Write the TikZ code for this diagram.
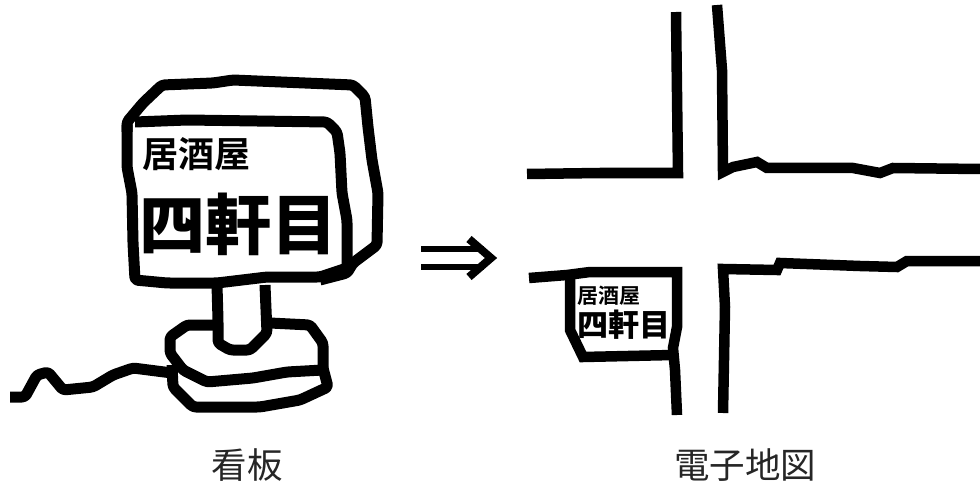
\documentclass[tikz,border=0pt]{standalone}
\usepackage{fontspec}
\setmainfont{Noto Sans CJK JP}
\newfontfamily\jpbold{Noto Sans CJK JP Black}
\newfontfamily\jpmed{Noto Sans CJK JP Bold}
\tikzset{
  ink/.style={line width=11pt,line join=round,line cap=butt,black,rounded corners=3pt},
  road/.style={line width=10.5pt,line join=miter,line cap=butt,black},
  caption/.style={font=\fontsize{35.5}{38}\selectfont,inner sep=0pt,text=black!85},
}
\begin{document}
\begin{tikzpicture}[x=1pt,y=-1pt]
\useasboundingbox (0,0) rectangle (980,484);
\fill[white] (0,0) rectangle (980,484);
% sign
\draw[ink] (127,132) -- (127,122) -- (143,103) -- (162,85) -- (213,83) -- (233,80) -- (353,85) -- (365,97) -- (368,127) -- (372,160) -- (378,193) -- (377,245) -- (353,263) -- (347,273) -- (320,280);
\draw[ink] (135,122) -- (187,120) -- (327,122) -- (337,132) -- (340,153) -- (342,193) -- (347,220) -- (347,268);
\draw[ink] (127,125) -- (127,167) -- (132,193) -- (133,243) -- (135,280) -- (167,283) -- (217,283) -- (267,277) -- (320,277) -- (347,268);
% pole
\draw[ink] (217,285) -- (218,320) -- (218,343) -- (230,350) -- (250,350) -- (267,333) -- (265,285);
% base
\draw[ink] (217,325) -- (187,325) -- (170,337) -- (170,353) -- (183,370) -- (207,382) -- (253,378) -- (287,372) -- (323,370) -- (323,343) -- (310,325) -- (270,323);
\draw[ink] (172,365) -- (173,387) -- (193,407) -- (260,407) -- (300,400) -- (328,387) -- (323,368);
% cable
\draw[ink] (10,397) -- (25,397) -- (37,375) -- (48,372) -- (63,390) -- (93,387) -- (113,375) -- (133,368) -- (172,373);
% arrow
\draw[line width=6.5pt,black] (421,249) -- (484,249) (421,267) -- (484,267);
\draw[line width=8pt,black] (469,239) -- (491,258) -- (469,277);
% map
\draw[road] (527,174) -- (600,173) -- (650,173) -- (678,173) -- (676,12);
\draw[road] (717,5) -- (722,70) -- (723,172) -- (733,167) -- (757,162) -- (767,168) -- (853,168) -- (880,173) -- (893,168) -- (980,169);
\draw[road] (529,278) -- (567,275) -- (590,272) -- (677,272) -- (677,327) -- (673,348) -- (675,370) -- (677,415);
\draw[road] (570,275) -- (570,330) -- (583,357) -- (673,355);
\draw[road] (980,261) -- (907,261) -- (897,267) -- (860,266) -- (780,263) -- (777,270) -- (723,269) -- (725,307) -- (723,413);
% texts
\node[inner sep=0pt,font=\jpmed\fontsize{36}{40}\selectfont] (signa) at (196,154) {居酒屋};
\node[inner sep=0pt,font=\jpbold\fontsize{66}{70}\selectfont] (signb) at (238,224) {四軒目};
\node[inner sep=0pt,font=\jpmed\fontsize{21}{24}\selectfont] (shopa) at (609,296) {居酒屋};
\node[inner sep=0pt,font=\jpbold\fontsize{31}{34}\selectfont] (shopb) at (624,325) {四軒目};
\node[caption] (capa) at (247,465) {看板};
\node[caption] (capb) at (745,465) {電子地図};
\end{tikzpicture}
\end{document}
